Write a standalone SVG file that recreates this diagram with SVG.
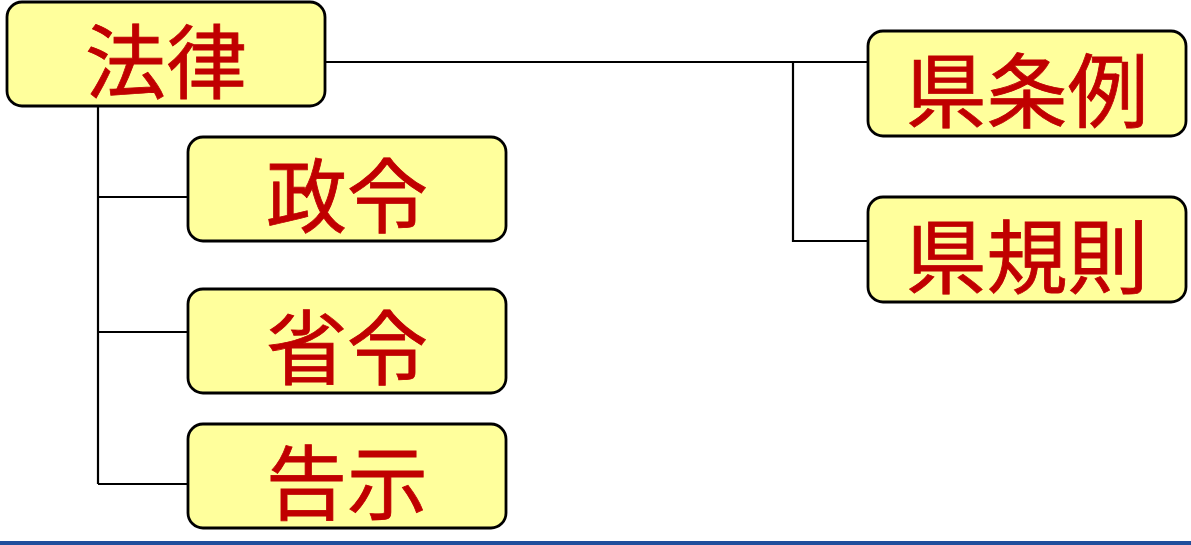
<svg xmlns="http://www.w3.org/2000/svg" width="1191" height="545" viewBox="0 0 1191 545">
<style>
.box{fill:#ffff9c;stroke:#000;stroke-width:2.8}
.lbl{font-family:"Noto Sans CJK JP","Noto Sans CJK SC",sans-serif;font-size:81px;font-weight:400;fill:#c00000;stroke:#c00000;stroke-width:0.8;text-anchor:middle}
.con{stroke:#000;stroke-width:2.2;fill:none}
</style>
<rect width="1191" height="545" fill="#fff"/>
<g id="connectors">
<path class="con" d="M98 106V484M98 197H188M98 332H188M98 484H188"/>
<path class="con" d="M325 62H868M793 62V241H868"/>
</g>
<g id="n-houritsu"><rect class="box" x="7" y="2" width="318" height="104" rx="15"/><text class="lbl" x="166" y="92">法律</text></g>
<g id="n-seirei"><rect class="box" x="188" y="137" width="318" height="104" rx="15"/><text class="lbl" x="347" y="226">政令</text></g>
<g id="n-shourei"><rect class="box" x="188" y="289" width="318" height="104" rx="15"/><text class="lbl" x="347" y="378">省令</text></g>
<g id="n-kokuji"><rect class="box" x="188" y="424" width="318" height="104" rx="15"/><text class="lbl" x="347" y="513">告示</text></g>
<g id="n-kenjourei"><rect class="box" x="868" y="31" width="318" height="105" rx="15"/><text class="lbl" x="1027" y="121">県条例</text></g>
<g id="n-kenkisoku"><rect class="box" x="868" y="197" width="318" height="105" rx="15"/><text class="lbl" x="1027" y="287">県規則</text></g>
<rect x="0" y="541" width="1191" height="4" fill="#1f4e9c"/>
</svg>
